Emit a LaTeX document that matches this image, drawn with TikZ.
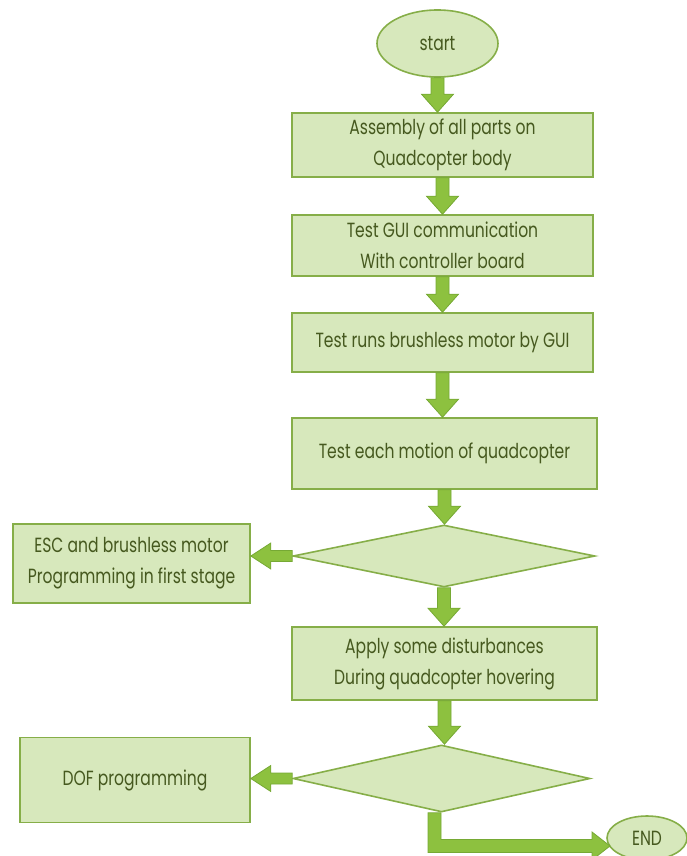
\documentclass[tikz,border=0pt]{standalone}
\usepackage{fontspec}
\setmainfont[FakeStretch=0.76]{Poppins}
\usetikzlibrary{shapes.geometric,calc}
\definecolor{boxfill}{HTML}{D7E8BC}
\definecolor{boxline}{HTML}{86AE48}
\definecolor{arrfill}{HTML}{8DC13F}
\definecolor{arrline}{HTML}{76A934}
\definecolor{txt}{HTML}{46591F}
\newcommand{\blockdown}[2]{%
 \path[blockarrow] let \p1=(#1), \p2=(#2) in
 (\x1-6.5pt,\y1) -- (\x1+6.5pt,\y1) -- (\x1+6.5pt,\y2+18pt) -- (\x1+16pt,\y2+18pt) -- (\x1,\y2) -- (\x1-16pt,\y2+18pt) -- (\x1-6.5pt,\y2+18pt) -- cycle;}
\newcommand{\blockleft}[2]{%
 \path[blockarrow] let \p1=(#1), \p2=(#2) in
 (\x1,\y1+5.5pt) -- (\x1,\y1-5.5pt) -- (\x2+20pt,\y1-5.5pt) -- (\x2+20pt,\y1-13pt) -- (\x2,\y1) -- (\x2+20pt,\y1+13pt) -- (\x2+20pt,\y1+5.5pt) -- cycle;}
\begin{document}
\begin{tikzpicture}[x=1pt,y=-1pt,
  box/.style={draw=boxline, line width=1.6pt, fill=boxfill, rectangle, inner sep=0pt, text=txt, align=center, font=\fontsize{20.5}{31}\selectfont},
  decision/.style={draw=boxline, line width=1.6pt, fill=boxfill, diamond, inner sep=0pt},
  term/.style={draw=boxline, line width=1.6pt, fill=boxfill, ellipse, inner sep=0pt, text=txt, font=\fontsize{20.5}{22}\selectfont},
  blockarrow/.style={fill=arrfill, draw=arrline, line width=0.8pt, line join=miter}]
\useasboundingbox (0,0) rectangle (687,856);
\node[term, minimum width=121pt, minimum height=67pt] (start) at (437.5,43.5) {start};
\node[box, minimum width=301pt, minimum height=64pt] (b1) at (442.5,145) {Assembly of all parts on\\Quadcopter body};
\node[box, minimum width=301pt, minimum height=61pt] (b2) at (442.5,245.5) {Test GUI communication\\With controller board};
\node[box, minimum width=301pt, minimum height=59pt] (b3) at (442.5,342.5) {Test runs brushless motor by GUI};
\node[box, minimum width=305pt, minimum height=71pt] (b4) at (444.5,453.5) {Test each motion of quadcopter};
\node[decision, minimum width=302pt, minimum height=62pt] (d1) at (444,556) {};
\node[box, minimum width=237pt, minimum height=79pt] (esc) at (131.5,563.5) {ESC and brushless motor\\Programming in first stage};
\node[box, minimum width=305pt, minimum height=73pt] (b5) at (444.5,663.5) {Apply some disturbances\\During quadcopter hovering};
\node[decision, minimum width=297pt, minimum height=67pt] (d2) at (441.5,778.5) {};
\node[box, minimum width=230pt, minimum height=85pt] (dof) at (135,780) {DOF programming};
\node[term, minimum width=80pt, minimum height=44pt] (end) at (647,838) {END};
\coordinate (endtip) at (610,846);
\blockdown{start.south}{b1.north}
\blockdown{b1.south}{b2.north}
\blockdown{b2.south}{b3.north}
\blockdown{b3.south}{b4.north}
\blockdown{b4.south}{d1.north}
\blockdown{d1.south}{b5.north}
\blockdown{b5.south}{d2.north}
\blockleft{d1.west}{esc.east}
\blockleft{d2.west}{dof.east}
\path[blockarrow] let \p1=(d2.south), \p2=(endtip) in
 (\x1-13.5pt,\y1) -- (\x1-0.5pt,\y1) -- (\x1-0.5pt,\y2+6.5pt) -- (\x2-18pt,\y2+6.5pt) -- (\x2-18pt,\y2+14pt) -- (\x2,\y2) -- (\x2-18pt,\y2-14pt) -- (\x2-18pt,\y2-6.5pt) -- (\x1-13.5pt,\y2-6.5pt) -- cycle;
\end{tikzpicture}
\end{document}
